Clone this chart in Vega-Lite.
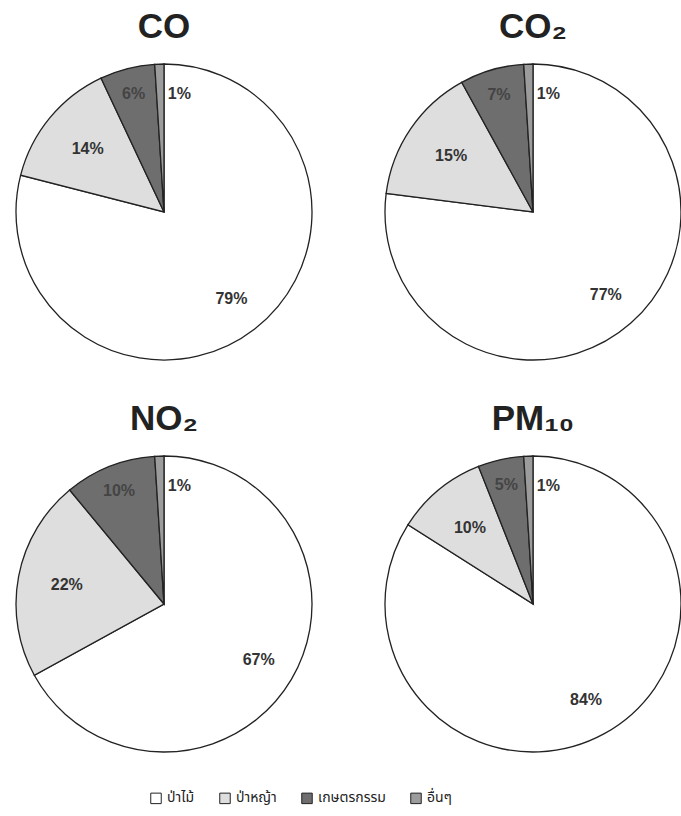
{
  "$schema": "https://vega.github.io/schema/vega-lite/v6.json",
  "background": "white",
  "padding": {"left": 13, "top": 10, "right": 0, "bottom": 0},
  "data": {
    "values": [
      {"gas": "CO", "source": "ป่าไม้", "rank": 1, "pct": 79},
      {"gas": "CO", "source": "ป่าหญ้า", "rank": 2, "pct": 14},
      {"gas": "CO", "source": "เกษตรกรรม", "rank": 3, "pct": 6},
      {"gas": "CO", "source": "อื่นๆ", "rank": 4, "pct": 1},
      {"gas": "CO₂", "source": "ป่าไม้", "rank": 1, "pct": 77},
      {"gas": "CO₂", "source": "ป่าหญ้า", "rank": 2, "pct": 15},
      {"gas": "CO₂", "source": "เกษตรกรรม", "rank": 3, "pct": 7},
      {"gas": "CO₂", "source": "อื่นๆ", "rank": 4, "pct": 1},
      {"gas": "NO₂", "source": "ป่าไม้", "rank": 1, "pct": 67},
      {"gas": "NO₂", "source": "ป่าหญ้า", "rank": 2, "pct": 22},
      {"gas": "NO₂", "source": "เกษตรกรรม", "rank": 3, "pct": 10},
      {"gas": "NO₂", "source": "อื่นๆ", "rank": 4, "pct": 1},
      {"gas": "PM₁₀", "source": "ป่าไม้", "rank": 1, "pct": 84},
      {"gas": "PM₁₀", "source": "ป่าหญ้า", "rank": 2, "pct": 10},
      {"gas": "PM₁₀", "source": "เกษตรกรรม", "rank": 3, "pct": 5},
      {"gas": "PM₁₀", "source": "อื่นๆ", "rank": 4, "pct": 1}
    ]
  },
  "transform": [{"calculate": "datum.pct + '%'", "as": "label"}],
  "facet": {
    "field": "gas",
    "type": "nominal",
    "sort": ["CO", "CO₂", "NO₂", "PM₁₀"],
    "header": {
      "title": null,
      "labelFont": "Liberation Sans",
      "labelFontSize": 35,
      "labelFontWeight": "bold",
      "labelColor": "#222222",
      "labelPadding": 16
    }
  },
  "columns": 2,
  "spacing": {"row": 39, "column": 67},
  "spec": {
    "width": 300,
    "height": 300,
    "encoding": {
      "theta": {"field": "pct", "type": "quantitative", "stack": "normalize"},
      "order": {"field": "rank", "type": "quantitative"}
    },
    "layer": [
      {
        "mark": {"type": "arc", "outerRadius": 148, "stroke": "#222222", "strokeWidth": 1.3},
        "encoding": {
          "fill": {
            "field": "source",
            "type": "nominal",
            "scale": {
              "domain": ["ป่าไม้", "ป่าหญ้า", "เกษตรกรรม", "อื่นๆ"],
              "range": ["#ffffff", "#dedede", "#6e6e6e", "#9c9c9c"]
            },
            "legend": {
              "orient": "none",
              "legendX": 135,
              "legendY": 729,
              "direction": "horizontal",
              "title": null,
              "symbolType": "square",
              "symbolSize": 110,
              "symbolStrokeColor": "#222222",
              "symbolStrokeWidth": 1,
              "labelFont": "Noto Sans Thai, Noto Sans, DejaVu Sans, sans-serif",
              "labelFontSize": 14,
              "labelOffset": 4,
              "labelColor": "#222222",
              "columnPadding": 22
            }
          }
        }
      },
      {
        "mark": {"type": "text", "radius": 110, "font": "Liberation Sans", "fontSize": 16, "fontWeight": "bold", "color": "#333333"},
        "encoding": {
          "text": {"condition": {"test": "datum.rank != 1", "value": ""}, "field": "label", "type": "nominal"}
        }
      },
      {
        "mark": {"type": "text", "radius": 99, "font": "Liberation Sans", "fontSize": 16, "fontWeight": "bold", "color": "#333333"},
        "encoding": {
          "text": {"condition": {"test": "datum.rank != 2", "value": ""}, "field": "label", "type": "nominal"}
        }
      },
      {
        "mark": {"type": "text", "radius": 122, "font": "Liberation Sans", "fontSize": 16, "fontWeight": "bold", "color": "#444444"},
        "encoding": {
          "text": {"condition": {"test": "datum.rank != 3", "value": ""}, "field": "label", "type": "nominal"}
        }
      },
      {
        "mark": {"type": "text", "radius": 118, "dx": 19, "font": "Liberation Sans", "fontSize": 16, "fontWeight": "bold", "color": "#333333"},
        "encoding": {
          "text": {"condition": {"test": "datum.rank != 4", "value": ""}, "field": "label", "type": "nominal"}
        }
      }
    ]
  },
  "config": {
    "view": {"stroke": null}
  }
}
